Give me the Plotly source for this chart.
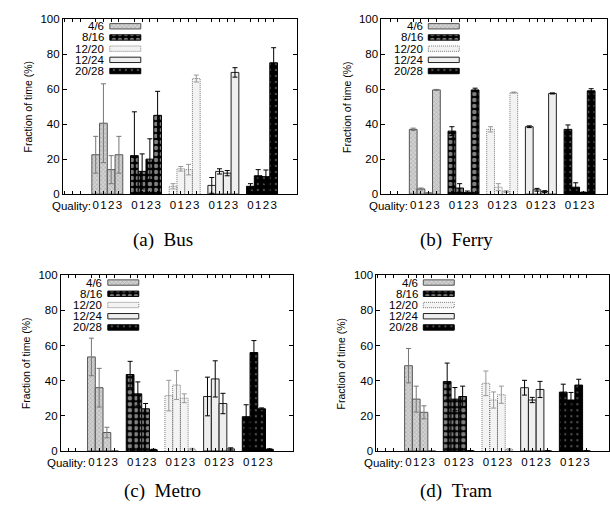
import plotly.graph_objects as go

# ---------------- data ----------------
categories = ["4/6", "8/16", "12/20", "12/24", "20/28"]
qualities = ["0", "1", "2", "3"]
panel_titles = ["(a)\u00a0\u00a0Bus", "(b)\u00a0\u00a0Ferry", "(c)\u00a0\u00a0Metro", "(d)\u00a0\u00a0Tram"]

bus_values = [[22.5, 40.5, 14, 22.5], [22, 13, 20, 45], [4.5, 14.5, 14, 66], [5, 13, 12, 69.5], [4.5, 10.5, 10, 75]]
bus_errors = [[10.5, 22.5, 8, 10.5], [25, 10, 11.6, 13.7], [1.5, 1.3, 3, 2], [4.5, 1.5, 1.5, 2.7], [1.5, 3.5, 3.8, 8.6]]

ferry_values = [[37, 3, 0.7, 59.5], [36, 3.5, 1, 59.5], [37, 4, 1.5, 58], [38.5, 2.5, 1.5, 57.5], [37, 4, 1, 59]]
ferry_errors = [[0.7, 0.5, 0.2, 0.3], [2.5, 2.5, 0.8, 1], [1.5, 2, 0.5, 0.3], [0.5, 0.8, 0.5, 0.3], [2.5, 2.5, 0.2, 1.2]]

metro_values = [[53.5, 36, 10.5, 0], [43.5, 32.5, 24, 0.7], [31.5, 37.5, 30, 1], [31, 41, 27, 1.2], [19.5, 56, 24, 1]]
metro_errors = [[10.7, 11, 3, 0], [7.5, 6.8, 3, 0.3], [8.7, 8.2, 2.5, 0.5], [11, 10.3, 5.8, 0.6], [6.8, 6.8, 0.5, 0.2]]

tram_values = [[48.5, 29.5, 22, 0], [39.5, 29.5, 31, 0], [38.5, 29, 32, 0.8], [36, 29, 35, 0], [33.5, 29, 37.5, 0]]
tram_errors = [[9.8, 7.4, 3.7, 0], [10.5, 6.6, 5.9, 0], [7, 4.6, 4.9, 0.5], [4.2, 1.5, 4.6, 0], [4.5, 4.3, 3.3, 0]]

y_ticks = [0, 20, 40, 60, 80, 100]

# ---------------- layout geometry ----------------
W, H = 610, 510
PX_PER_UNIT = 38.75
BAR_W = 0.2

panels = [
    dict(vals=bus_values, errs=bus_errors, px=(63, 297), py=(13.3, 192.7), left=-0.148, cap=(163, 240)),
    dict(vals=ferry_values, errs=ferry_errors, px=(382, 608), py=(13.3, 192.7), left=-0.123, cap=(457, 240)),
    dict(vals=metro_values, errs=metro_errors, px=(61, 293.3), py=(275.7, 455.7), left=-0.089, cap=(163, 497)),
    dict(vals=tram_values, errs=tram_errors, px=(377, 610), py=(275.7, 455.7), left=-0.13, cap=(457, 497)),
]

styles = [
    dict(color="#d2d2d2", pattern=dict(shape="x", fgcolor="#858585", size=3, solidity=0.35),
         line="#555555", err="#777777"),
    dict(color="#000000", pattern=dict(shape=".", fgcolor="#ffffff", size=6, solidity=0.45),
         line="#000000", err="#000000"),
    dict(color="#f3f3f3", pattern=None, line="rgba(0,0,0,0)", err="#999999"),
    dict(color="#eeeeee", pattern=None, line="#222222", err="#000000"),
    dict(color="#000000", pattern=dict(shape=".", fgcolor="#9a9a9a", size=6, solidity=0.12),
         line="#000000", err="#000000"),
]

FONT = "Liberation Sans, Arial, sans-serif"
fig = go.Figure()
annotations = []
layout_axes = {}

legend_rows_px = [7.5, 19, 30.5, 42, 53.5]
y_per_px = 100 / 180.0

for i, p in enumerate(panels, start=1):
    xa = "x" if i == 1 else f"x{i}"
    ya = "y" if i == 1 else f"y{i}"
    x0, x1 = p["px"]
    ytop, ybot = p["py"]
    left = p["left"]
    right = left + (x1 - x0) / PX_PER_UNIT

    tickvals, ticktext = [], []
    for g in range(0, 6):
        for q in range(4):
            pos = g + (q - 1.5) * BAR_W
            if left < pos < right:
                tickvals.append(pos)
                ticktext.append(qualities[q] if g > 0 else "")

    for s, cat in enumerate(categories):
        st = styles[s]
        xs = [s + 1 + (q - 1.5) * BAR_W for q in range(4)]
        marker = dict(color=st["color"], line=dict(color=st["line"], width=1))
        if st["pattern"]:
            marker["pattern"] = dict(fillmode="overlay", **st["pattern"])
        fig.add_trace(go.Bar(
            x=xs, y=p["vals"][s], width=[BAR_W] * 4, xaxis=xa, yaxis=ya,
            marker=marker, showlegend=False, name=cat,
            error_y=dict(type="data", array=p["errs"][s], color=st["err"], thickness=1, width=2.5),
        ))
        # legend sample box (drawn through the same axes)
        yc = 100 - legend_rows_px[s] * y_per_px
        hbox = 5.5 * y_per_px
        xc = left + (47 + 78) / 2 / PX_PER_UNIT
        wbox = (78 - 47) / PX_PER_UNIT
        fig.add_trace(go.Bar(
            x=[xc], y=[hbox], base=[yc - hbox / 2], width=[wbox], xaxis=xa, yaxis=ya,
            marker=marker, showlegend=False, name=cat + " key",
        ))
        if s == 2:
            # dotted outline for 12/20 bars and key
            ox, oy = [], []
            for xc_, v in zip(xs, p["vals"][s]):
                ox += [xc_ - BAR_W / 2, xc_ - BAR_W / 2, xc_ + BAR_W / 2, xc_ + BAR_W / 2, None]
                oy += [0, v, v, 0, None]
            ox += [xc - wbox / 2, xc - wbox / 2, xc + wbox / 2, xc + wbox / 2, xc - wbox / 2]
            oy += [yc - hbox / 2, yc + hbox / 2, yc + hbox / 2, yc - hbox / 2, yc - hbox / 2]
            fig.add_trace(go.Scatter(x=ox, y=oy, mode="lines", xaxis=xa, yaxis=ya,
                                     line=dict(color="#7a7a7a", width=1, dash="1px,1px"),
                                     showlegend=False, hoverinfo="skip"))
        annotations.append(dict(
            x=left + 43.5 / PX_PER_UNIT, y=yc, xref=xa, yref=ya, text=cat, showarrow=False,
            xanchor="right", yanchor="middle", font=dict(family=FONT, size=11.5, color="black")))

    layout_axes["xaxis" if i == 1 else f"xaxis{i}"] = dict(
        domain=[x0 / W, x1 / W], range=[left, right], anchor=ya,
        tickvals=tickvals, ticktext=ticktext, ticks="inside", ticklen=3, tickcolor="black",
        showline=True, linecolor="black", linewidth=1, mirror="ticks", showgrid=False,
        zeroline=False, tickfont=dict(family=FONT, size=11.5, color="black"), tickangle=0,
    )
    layout_axes["yaxis" if i == 1 else f"yaxis{i}"] = dict(
        domain=[1 - ybot / H, 1 - ytop / H], range=[0, 100], anchor=xa,
        tickvals=y_ticks, ticks="inside", ticklen=4, tickcolor="black",
        showline=True, linecolor="black", linewidth=1, mirror="ticks", showgrid=False,
        zeroline=False, tickfont=dict(family=FONT, size=11.5, color="black"),
    )
    # y-axis title
    annotations.append(dict(
        x=(x0 - 35) / W, y=1 - (ytop + ybot) / 2 / H, xref="paper", yref="paper",
        text="Fraction of time (%)", textangle=-90, showarrow=False,
        xanchor="center", yanchor="middle", font=dict(family=FONT, size=10.5, color="black")))
    # "Quality:" label
    annotations.append(dict(
        x=0.62, y=0, xref=xa, yref=f"{ya} domain", text="Quality:", showarrow=False,
        xanchor="right", yanchor="top", yshift=-4, font=dict(family=FONT, size=11.5, color="black")))
    # caption
    annotations.append(dict(
        x=p["cap"][0] / W, y=1 - p["cap"][1] / H, xref="paper", yref="paper",
        text=panel_titles[i - 1], showarrow=False, xanchor="center", yanchor="middle",
        font=dict(family="Liberation Serif, Times New Roman, serif", size=19, color="black")))

fig.update_layout(
    width=W, height=H, margin=dict(l=0, r=0, t=0, b=0),
    paper_bgcolor="white", plot_bgcolor="white",
    barmode="overlay", showlegend=False, annotations=annotations, **layout_axes,
)

fig.write_html("out.html")
